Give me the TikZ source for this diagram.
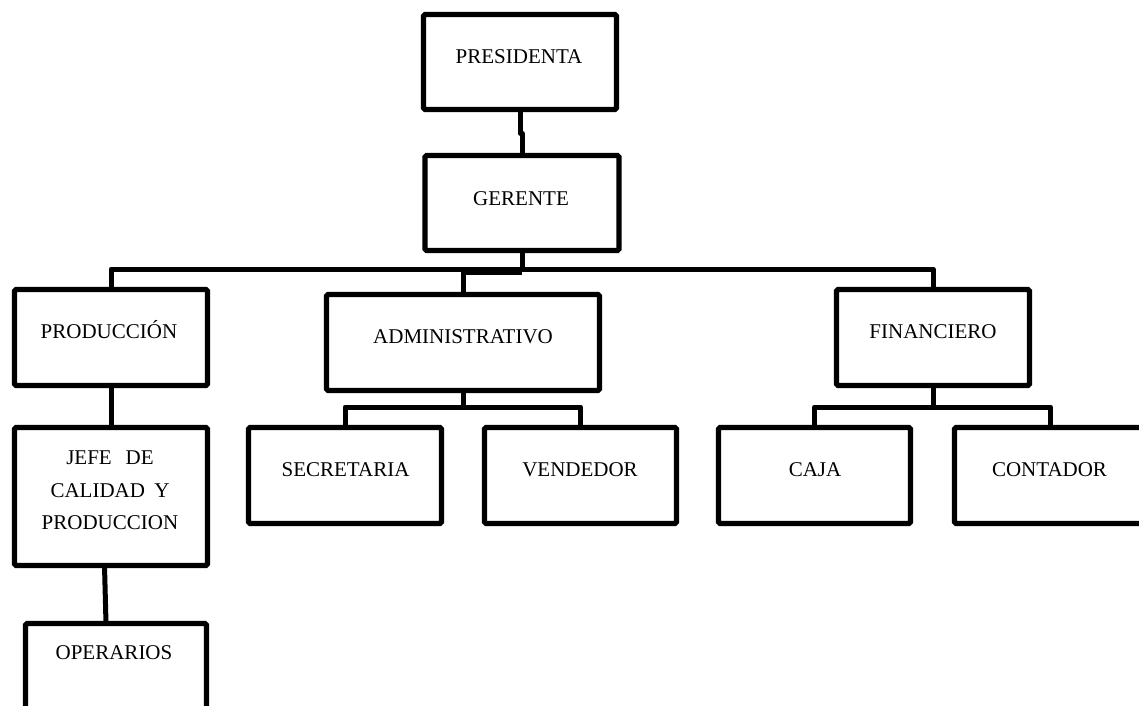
\documentclass[tikz,border=0pt]{standalone}
\usepackage{fontspec}
\setmainfont{Liberation Serif}
\begin{document}
\begin{tikzpicture}[x=1pt,y=-1pt,
  box/.style={draw=black, line width=5.2pt, inner sep=0pt, outer sep=0pt, rounded corners=1.5pt},
  lbl/.style={anchor=base, inner sep=0pt, font=\fontsize{21}{24}\selectfont},
  conn/.style={draw=black, line width=5pt, line join=round}]
\fill[white] (0,0) rectangle (1139,705);
\clip (0,0) rectangle (1139,705);
% boxes
\node[box, minimum width=193pt, minimum height=95pt] (pres) at (520,62) {};
\node[box, minimum width=194pt, minimum height=95pt] (ger) at (522,203) {};
\node[box, minimum width=193pt, minimum height=96pt] (prod) at (111,337.5) {};
\node[box, minimum width=273pt, minimum height=96pt] (adm) at (463,342.5) {};
\node[box, minimum width=193pt, minimum height=96pt] (fin) at (933,337.5) {};
\node[box, minimum width=193pt, minimum height=138pt] (jefe) at (111,496.5) {};
\node[box, minimum width=181pt, minimum height=120pt] (oper) at (116,683.5) {};
\node[box, minimum width=193pt, minimum height=96pt] (sec) at (345,475.5) {};
\node[box, minimum width=192pt, minimum height=96pt] (ven) at (580.5,475.5) {};
\node[box, minimum width=192pt, minimum height=96pt] (caja) at (814.5,475.5) {};
\node[box, minimum width=192pt, minimum height=96pt] (cont) at (1050.5,475.5) {};
% labels
\node[lbl] (presT) at (519,63) {PRESIDENTA};
\node[lbl] (gerT) at (521,205) {GERENTE};
\node[lbl] (prodT) at (109,338) {PRODUCCIÓN};
\node[lbl] (admT) at (463,343) {ADMINISTRATIVO};
\node[lbl] (finT) at (933,338) {FINANCIERO};
\node[lbl] (jefeT1) at (110,464) {JEFE\hspace{14pt}DE};
\node[lbl] (jefeT2) at (110,497) {CALIDAD\hspace{4pt} Y};
\node[lbl] (jefeT3) at (110,529) {PRODUCCION};
\node[lbl] (operT) at (114,659) {OPERARIOS};
\node[lbl] (secT) at (345.5,476) {SECRETARIA};
\node[lbl] (venT) at (580,476) {VENDEDOR};
\node[lbl] (cajaT) at (815,476) {CAJA};
\node[lbl] (contT) at (1049.5,476) {CONTADOR};
% bus coordinates
\coordinate (jog) at (520,133);
\coordinate (bus) at (0,269);
\coordinate (bus2) at (0,271.5);
\coordinate (abus) at (0,407);
% connectors
\draw[conn] (pres.south) -- (pres.south |- jog) -- (ger.north |- jog) -- (ger.north);
\draw[conn] (ger.south) -- (ger.south |- bus);
\draw[conn] (prod.north) -- (prod.north |- bus) -- (fin.north |- bus) -- (fin.north);
\draw[conn] (adm.north) -- (adm.north |- bus);
\draw[conn, line width=7pt] (adm.north |- bus2) -- (ger.south |- bus2);
\draw[conn] (prod.south) -- (jefe.north);
\draw[conn] ([xshift=-6.5pt]jefe.south) -- ([xshift=-10pt]oper.north);
\draw[conn] (adm.south) -- (adm.south |- abus);
\draw[conn] (sec.north) -- (sec.north |- abus) -- (ven.north |- abus) -- (ven.north);
\draw[conn] (fin.south) -- (fin.south |- abus);
\draw[conn] (caja.north) -- (caja.north |- abus) -- (cont.north |- abus) -- (cont.north);
\end{tikzpicture}
\end{document}
